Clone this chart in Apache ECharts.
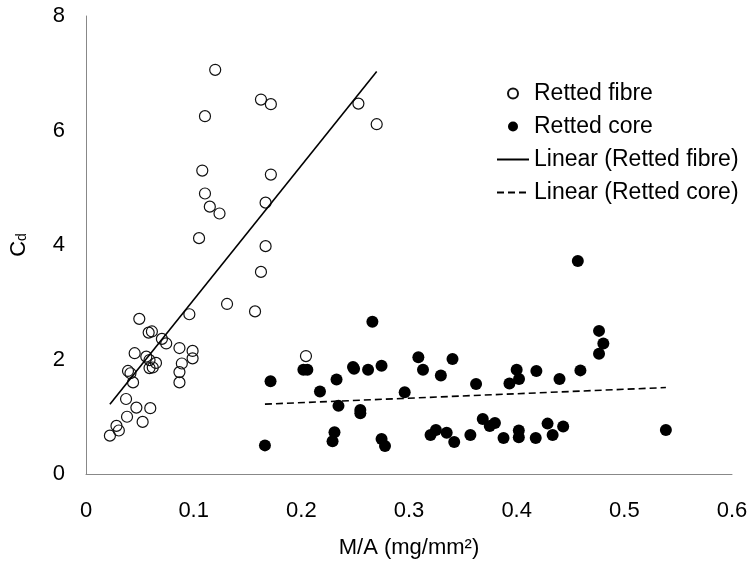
<!DOCTYPE html>
<html>
<head>
<meta charset="utf-8">
<script src="https://cdn.jsdelivr.net/npm/echarts@6/dist/echarts.min.js"></script>
<style>html,body{margin:0;padding:0;background:#fff}#c{width:751px;height:567px}</style>
</head>
<body>
<div id="c"></div>
<script>
// Retted fibre (open circles)
var fibreX = [0.120,0.1625,0.1717,0.1105,0.253,0.270,0.108,0.1717,0.1105,0.115,0.124,0.1668,0.105,0.1668,0.1625,0.131,0.157,0.2043,
  0.0495,0.0582,0.0612,0.0705,0.0745,0.096,0.0452,0.056,0.059,0.065,0.059,0.062,0.039,0.0413,0.0437,0.0868,0.099,0.099,0.089,0.0868,0.0868,0.0372,0.0468,0.0597,0.0381,0.0526,0.0283,0.0305,0.0222];
var fibreY = [7.06,6.54,6.46,6.25,6.47,6.11,5.30,5.23,4.90,4.67,4.55,4.74,4.12,3.98,3.53,2.97,2.84,2.06,
  2.71,2.47,2.49,2.36,2.28,2.79,2.11,2.05,1.99,1.94,1.85,1.86,1.80,1.76,1.60,2.20,2.15,2.02,1.93,1.78,1.60,1.31,1.16,1.15,1.00,0.91,0.84,0.76,0.67];
// Retted core (filled circles)
var coreX = [0.1662,0.1714,0.2019,0.2056,0.2173,0.2327,0.2345,0.2308,0.229,0.248,0.249,0.2548,0.2548,0.262,0.266,0.2745,0.2745,0.2777,0.296,0.3087,
  0.313,0.320,0.325,0.3296,0.335,0.3404,0.342,0.357,0.3623,0.3685,0.375,0.3798,0.3878,0.3933,0.400,0.4022,0.402,0.402,0.4177,0.4183,
  0.4287,0.4334,0.4398,0.4432,0.4568,0.4592,0.4765,0.4805,0.4765,0.5386];
var coreY = [0.50,1.62,1.82,1.82,1.44,1.65,1.19,0.73,0.57,1.87,1.84,1.12,1.06,1.82,2.66,1.89,0.61,0.49,1.43,2.04,
  1.82,0.68,0.77,1.72,0.72,2.01,0.56,0.68,1.57,0.96,0.84,0.89,0.63,1.58,1.82,1.66,0.76,0.64,0.63,1.80,
  0.88,0.68,1.66,0.83,3.72,1.81,2.50,2.28,2.10,0.77];
// Linear trendlines (end points)
var fibreTrendX = [0.0222, 0.270];
var fibreTrendY = [1.22, 7.03];
var coreTrendX = [0.1662, 0.5386];
var coreTrendY = [1.22, 1.51];
var seriesNames = ['Retted fibre','Retted core','Linear (Retted fibre)','Linear (Retted core)'];

function zip(a,b){ return a.map(function(v,i){ return [v,b[i]]; }); }
var FONT = '"Liberation Sans", Arial, sans-serif';
var chart = echarts.init(document.getElementById('c'), null, {renderer:'canvas'});
var hideSym = {color:'rgba(0,0,0,0)', borderWidth:0, opacity:0};
chart.setOption({
  animation:false,
  backgroundColor:'#fff',
  textStyle:{fontFamily:FONT},
  grid:{left:82,right:19,top:16,bottom:93,containLabel:false},
  legend:{
    orient:'vertical', left:491, top:77, itemWidth:32, itemHeight:10, itemGap:10,
    textStyle:{fontFamily:FONT,fontSize:23,color:'#000'},
    data:[
      {name:seriesNames[0]},
      {name:seriesNames[1]},
      {name:seriesNames[2], itemStyle:hideSym},
      {name:seriesNames[3], itemStyle:hideSym}
    ]
  },
  xAxis:{
    type:'value', min:0, max:0.6, interval:0.1,
    name:'M/A (mg/mm²)', nameLocation:'middle', nameGap:63,
    nameTextStyle:{fontFamily:FONT,fontSize:22,color:'#000'},
    axisLine:{show:true,lineStyle:{color:'#888',width:1}},
    axisTick:{show:false}, splitLine:{show:false},
    axisLabel:{fontFamily:FONT,fontSize:22,color:'#000',margin:26}
  },
  yAxis:{
    type:'value', min:0, max:8, interval:2,
    name:'{c|C}{d|d}', nameLocation:'middle', nameGap:50, nameRotate:90,
    nameTextStyle:{fontFamily:FONT,color:'#000',rich:{
      c:{fontFamily:FONT,fontSize:22,color:'#000',padding:[0,0,6,0]},
      d:{fontFamily:FONT,fontSize:14,color:'#000'}
    }},
    axisLine:{show:true,lineStyle:{color:'#888',width:1}},
    axisTick:{show:false}, splitLine:{show:false},
    axisLabel:{fontFamily:FONT,fontSize:22,color:'#000',margin:21}
  },
  series:[
    {name:seriesNames[0], type:'scatter', symbol:'circle', symbolSize:11,
     itemStyle:{color:'rgba(255,255,255,0)',borderColor:'#111',borderWidth:1.2,opacity:1},
     data:zip(fibreX,fibreY)},
    {name:seriesNames[1], type:'scatter', symbol:'circle', symbolSize:12,
     itemStyle:{color:'#000',opacity:1},
     data:zip(coreX,coreY)},
    {name:seriesNames[2], type:'line', symbol:'none', showSymbol:false,
     lineStyle:{color:'#000',width:1.6,type:'solid'}, itemStyle:{color:'#000'},
     data:zip(fibreTrendX,fibreTrendY)},
    {name:seriesNames[3], type:'line', symbol:'none', showSymbol:false,
     lineStyle:{color:'#000',width:1.6,type:[7,4]}, itemStyle:{color:'#000'},
     data:zip(coreTrendX,coreTrendY)}
  ]
});
</script>
</body>
</html>
